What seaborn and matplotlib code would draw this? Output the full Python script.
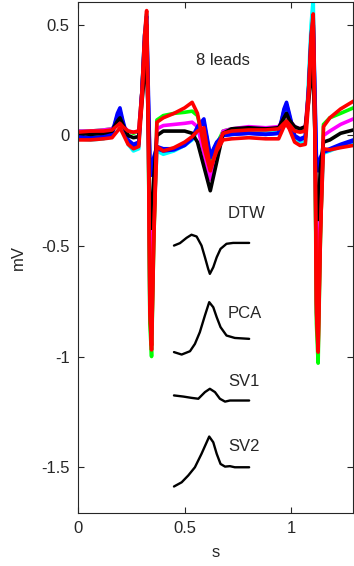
import numpy as np
import pandas as pd
import matplotlib
matplotlib.use('Agg')
import matplotlib.pyplot as plt
import seaborn as sns

# time base (s) shared by the 8 leads
t = [0.00, 0.06, 0.12, 0.16, 0.185, 0.197, 0.21, 0.235, 0.26, 0.285,
     0.300, 0.312, 0.322, 0.330, 0.337, 0.345, 0.355, 0.37, 0.40, 0.45,
     0.50, 0.535, 0.56, 0.59, 0.62, 0.65, 0.68, 0.72, 0.80, 0.88,
     0.94, 0.965, 0.977, 0.99, 1.015, 1.04, 1.065, 1.08, 1.092, 1.102,
     1.110, 1.117, 1.125, 1.135, 1.15, 1.18, 1.23, 1.29]

# lead values (mV)
lead_cyan = [-0.015, -0.02, -0.015, 0.0, 0.08, 0.10, 0.05, -0.04, -0.07, -0.06,
             0.20, 0.45, 0.55, 0.0, -0.80, -0.90, -0.40, -0.07, -0.085, -0.07,
             -0.045, -0.02, 0.02, -0.02, -0.11, -0.04, 0.01, 0.02, 0.02, 0.02,
             0.02, 0.09, 0.11, 0.07, -0.02, -0.035, -0.03, 0.25, 0.50, 0.62,
             0.10, -0.80, -0.90, -0.40, -0.08, -0.07, -0.05, -0.03]
lead_green = [0.02, 0.02, 0.025, 0.03, 0.06, 0.07, 0.04, 0.02, 0.01, 0.02,
              0.20, 0.42, 0.50, 0.0, -0.85, -1.00, -0.50, 0.07, 0.09, 0.10,
              0.105, 0.11, 0.09, -0.03, -0.11, -0.04, 0.02, 0.03, 0.035, 0.03,
              0.035, 0.065, 0.08, 0.06, 0.03, 0.025, 0.03, 0.20, 0.42, 0.50,
              0.0, -0.85, -1.03, -0.50, 0.05, 0.08, 0.10, 0.125]
lead_magenta = [0.02, 0.02, 0.025, 0.03, 0.06, 0.07, 0.045, 0.02, 0.015, 0.02,
                0.20, 0.38, 0.45, 0.0, -0.55, -0.70, -0.35, 0.03, 0.045, 0.05,
                0.055, 0.06, 0.04, -0.08, -0.20, -0.08, 0.02, 0.03, 0.04, 0.035,
                0.04, 0.08, 0.09, 0.07, 0.04, 0.03, 0.04, 0.20, 0.38, 0.45,
                0.0, -0.55, -0.70, -0.35, 0.0, 0.02, 0.05, 0.075]
lead_blue2 = [-0.01, -0.015, -0.01, 0.005, 0.09, 0.11, 0.06, -0.03, -0.05, -0.04,
              0.20, 0.42, 0.50, 0.15, -0.12, -0.18, -0.12, -0.06, -0.07, -0.065,
              -0.045, -0.015, 0.03, 0.06, -0.10, -0.035, 0.0, 0.005, 0.01, 0.005,
              0.01, 0.11, 0.14, 0.09, -0.005, -0.02, -0.01, 0.20, 0.42, 0.50,
              0.15, -0.12, -0.16, -0.12, -0.075, -0.065, -0.045, -0.025]
lead_blue = [-0.005, -0.01, -0.005, 0.01, 0.10, 0.125, 0.07, -0.02, -0.04, -0.03,
             0.20, 0.45, 0.54, 0.20, -0.10, -0.15, -0.10, -0.05, -0.06, -0.06,
             -0.04, -0.01, 0.04, 0.075, -0.09, -0.03, 0.0, 0.005, 0.01, 0.005,
             0.01, 0.12, 0.15, 0.10, 0.0, -0.015, -0.005, 0.20, 0.45, 0.53,
             0.20, -0.10, -0.145, -0.10, -0.07, -0.06, -0.04, -0.02]
lead_black = [0.01, 0.005, 0.01, 0.02, 0.065, 0.08, 0.05, 0.0, -0.01, -0.005,
              0.15, 0.28, 0.34, 0.05, -0.35, -0.42, -0.20, 0.0, 0.02, 0.02,
              0.02, 0.01, -0.03, -0.14, -0.25, -0.12, 0.01, 0.03, 0.035, 0.03,
              0.035, 0.08, 0.10, 0.07, 0.04, 0.03, 0.04, 0.15, 0.26, 0.31,
              0.0, -0.34, -0.38, -0.15, -0.03, -0.02, 0.01, 0.025]
lead_red2 = [-0.02, -0.02, -0.015, -0.01, 0.02, 0.035, 0.01, -0.04, -0.06, -0.05,
             0.15, 0.40, 0.50, 0.0, -0.75, -0.95, -0.45, -0.05, -0.07, -0.055,
             -0.03, -0.005, 0.02, 0.035, -0.15, -0.07, -0.02, -0.015, -0.01, -0.015,
             -0.015, 0.04, 0.05, 0.03, -0.03, -0.045, -0.04, 0.15, 0.40, 0.50,
             0.0, -0.75, -0.95, -0.45, -0.06, -0.065, -0.055, -0.045]
lead_red = [0.015, 0.02, 0.02, 0.025, 0.045, 0.055, 0.04, 0.02, 0.015, 0.02,
            0.20, 0.45, 0.565, 0.10, -0.80, -0.97, -0.50, 0.06, 0.08, 0.10,
            0.125, 0.15, 0.10, -0.05, -0.16, -0.06, 0.01, 0.02, 0.025, 0.025,
            0.03, 0.055, 0.065, 0.05, 0.02, 0.015, 0.02, 0.20, 0.45, 0.55,
            0.10, -0.80, -0.98, -0.50, 0.04, 0.08, 0.12, 0.155]

leads = [lead_cyan, lead_green, lead_magenta, lead_blue2,
         lead_blue, lead_black, lead_red2, lead_red]
lead_colors = ['#00ffff', '#00ff00', '#ff00ff', '#0000ff',
               '#0000ff', '#000000', '#ff0000', '#ff0000']

# extracted T-wave templates
dtw_x = [0.450, 0.478, 0.509, 0.532, 0.556, 0.579, 0.595, 0.610, 0.618, 0.634, 0.650, 0.668, 0.696, 0.727, 0.802]
dtw_y = [-0.498, -0.487, -0.463, -0.449, -0.457, -0.498, -0.551, -0.603, -0.626, -0.596, -0.551, -0.513, -0.490, -0.486, -0.486]
pca_x = [0.450, 0.486, 0.525, 0.548, 0.571, 0.595, 0.615, 0.634, 0.650, 0.668, 0.696, 0.735, 0.802]
pca_y = [-0.980, -0.991, -0.976, -0.943, -0.890, -0.814, -0.754, -0.777, -0.822, -0.867, -0.905, -0.916, -0.920]
sv1_x = [0.450, 0.493, 0.532, 0.564, 0.595, 0.618, 0.642, 0.665, 0.689, 0.712, 0.802]
sv1_y = [-1.176, -1.181, -1.187, -1.191, -1.161, -1.146, -1.161, -1.191, -1.204, -1.199, -1.199]
sv2_x = [0.450, 0.486, 0.517, 0.548, 0.579, 0.603, 0.615, 0.634, 0.650, 0.668, 0.689, 0.712, 0.735, 0.802]
sv2_y = [-1.588, -1.569, -1.538, -1.501, -1.440, -1.388, -1.362, -1.388, -1.440, -1.486, -1.498, -1.496, -1.501, -1.501]

templates = [(dtw_x, dtw_y, 'DTW', -0.353), (pca_x, pca_y, 'PCA', -0.805),
             (sv1_x, sv1_y, 'SV1', -1.113), (sv2_x, sv2_y, 'SV2', -1.407)]

sns.set_style('ticks')
plt.rcParams['font.family'] = ['Liberation Sans', 'DejaVu Sans']
plt.rcParams['font.size'] = 12

fig = plt.figure(figsize=(3.54, 5.66), dpi=100)
ax = fig.add_axes([0.220, 0.0936, 0.777, 0.9029])

for vals, col in zip(leads, lead_colors):
    sns.lineplot(x=t, y=vals, color=col, lw=2.6, ax=ax)

for tx, ty, name, ly in templates:
    sns.lineplot(x=tx, y=ty, color='black', lw=1.7, ax=ax)
    ax.text(0.703, ly, name, fontsize=12, va='center', ha='left')

ax.text(0.553, 0.339, '8 leads', fontsize=12, va='center', ha='left')

ax.set_xlim(0, 1.288)
ax.set_ylim(-1.708, 0.604)
ax.set_xticks([0, 0.5, 1])
ax.set_xticklabels(['0', '0.5', '1'])
ax.set_yticks([-1.5, -1, -0.5, 0, 0.5])
ax.set_yticklabels(['-1.5', '-1', '-0.5', '0', '0.5'])
ax.tick_params(direction='in', top=True, right=True, length=4, width=0.8,
               labelsize=12, pad=6)
for sp in ax.spines.values():
    sp.set_linewidth(0.8)
ax.set_xlabel('s', fontsize=12, labelpad=6)
ax.set_ylabel('mV', fontsize=12, labelpad=11)

fig.savefig('out.png', dpi=100)
